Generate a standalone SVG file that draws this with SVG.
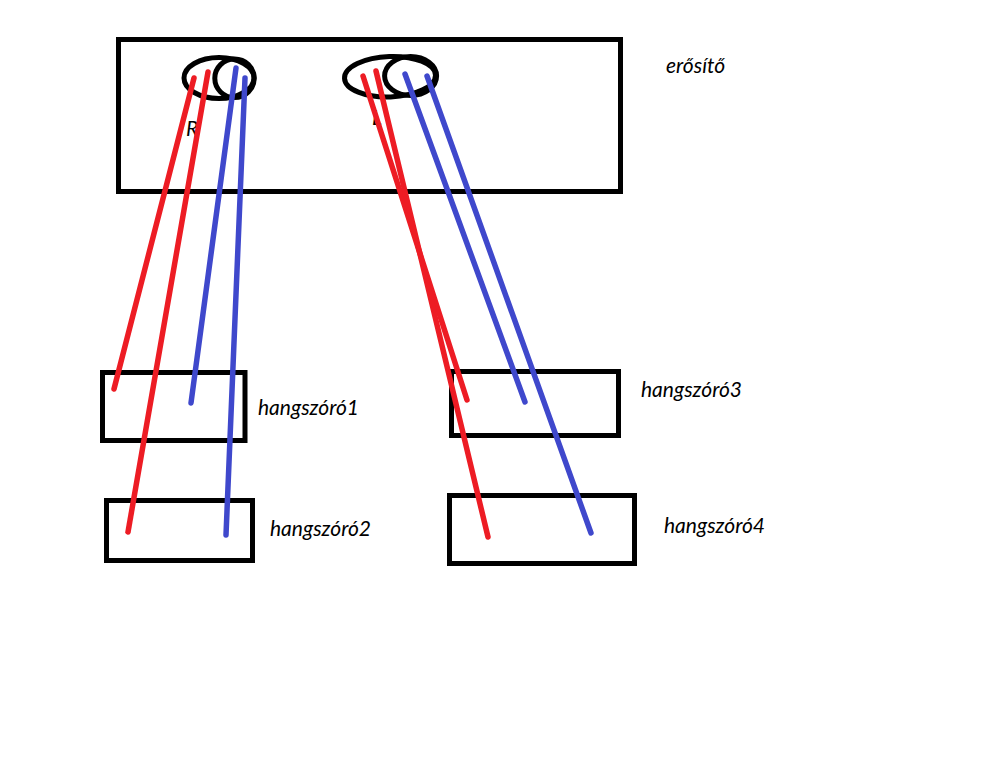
<svg xmlns="http://www.w3.org/2000/svg" width="1007" height="761" viewBox="0 0 1007 761">
<style>
.box{fill:none;stroke:#000;stroke-width:5}
.ring{fill:none;stroke:#000;stroke-width:5}
.label{font-family:"Lato","Carlito","Liberation Sans",sans-serif;font-style:italic;font-size:21px;fill:#000}
.wire{fill:none;stroke-width:5.500;stroke-linecap:round}
.red{stroke:#ed1c24}
.blue{stroke:#3f48cc}
</style>
<rect width="1007" height="761" fill="#fff"/>
<g id="erosito">
<rect class="box" x="118.500" y="39.500" width="502" height="152"/>
<ellipse class="ring" cx="219" cy="78" rx="35" ry="20.500"/>
<ellipse class="ring" cx="234.500" cy="78.300" rx="19.700" ry="19.300"/>
<ellipse class="ring" cx="390" cy="76.700" rx="45.500" ry="20.200" transform="rotate(-2 390 76.700)"/>
<ellipse class="ring" cx="410.600" cy="76" rx="26" ry="19.500"/>
<text class="label" x="186" y="136">R</text>
<text class="label" x="372" y="125">L</text>
<text class="label" x="666" y="73">erősítő</text>
</g>
<g id="hangszoro1">
<rect class="box" x="102.500" y="372.500" width="142.500" height="68"/>
<text class="label" x="258" y="415">hangszóró1</text>
</g>
<g id="hangszoro2">
<rect class="box" x="106.500" y="500.500" width="146" height="60"/>
<text class="label" x="270" y="536">hangszóró2</text>
</g>
<g id="hangszoro3">
<rect class="box" x="451.500" y="371.500" width="167" height="64"/>
<text class="label" x="641" y="397">hangszóró3</text>
</g>
<g id="hangszoro4">
<rect class="box" x="449.500" y="495.500" width="185" height="68"/>
<text class="label" x="664" y="533">hangszóró4</text>
</g>
<g id="connectors">
<line class="wire red" x1="194" y1="78" x2="114" y2="389"/>
<line class="wire red" x1="208" y1="72" x2="128" y2="532"/>
<line class="wire blue" x1="236" y1="68" x2="191" y2="403"/>
<line class="wire blue" x1="245" y1="78" x2="226" y2="535"/>
<line class="wire red" x1="363" y1="76" x2="467" y2="400"/>
<line class="wire red" x1="376" y1="71" x2="488" y2="537"/>
<line class="wire blue" x1="405" y1="74" x2="525" y2="402"/>
<line class="wire blue" x1="427" y1="76" x2="591" y2="533"/>
</g>
</svg>
